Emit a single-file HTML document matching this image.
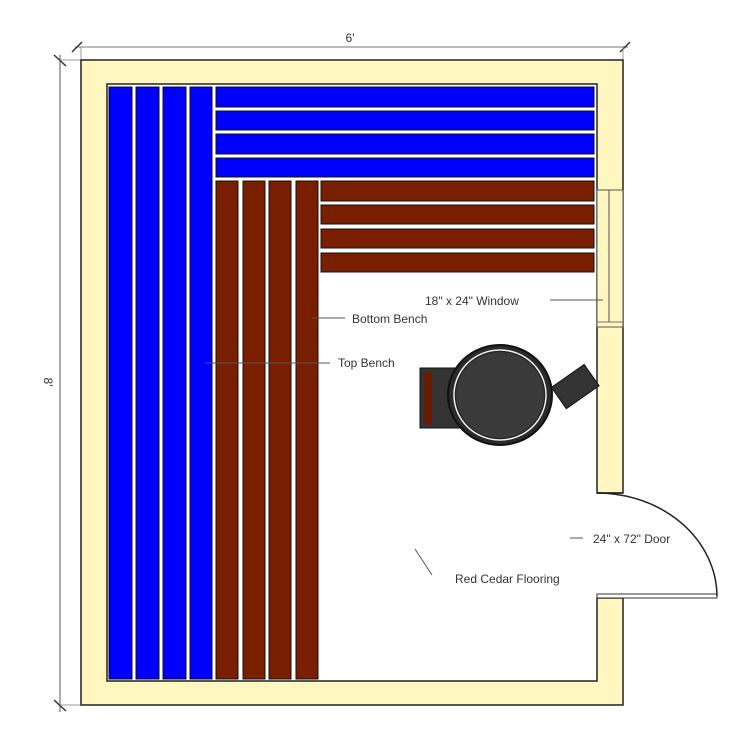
<!DOCTYPE html>
<html><head><style>body{margin:0;background:#fff}svg{display:block}</style></head><body>
<svg width="750" height="750" viewBox="0 0 750 750" xmlns="http://www.w3.org/2000/svg" font-family="Liberation Sans, sans-serif">
<rect width="750" height="750" fill="#fff"/>
<!-- dimension lines -->
<line x1="75" y1="47" x2="628" y2="47" stroke="#777" stroke-width="1"/>
<line x1="72" y1="52" x2="82" y2="42" stroke="#333" stroke-width="1.5"/>
<line x1="620" y1="52" x2="630" y2="42" stroke="#333" stroke-width="1.5"/>
<line x1="81" y1="47" x2="81" y2="60" stroke="#999"/>
<line x1="623" y1="47" x2="623" y2="60" stroke="#999"/>
<text x="350" y="42" font-size="12" fill="#333" text-anchor="middle">6'</text>
<line x1="60" y1="55" x2="60" y2="712" stroke="#555" stroke-width="1"/>
<line x1="54" y1="55" x2="66" y2="66" stroke="#333" stroke-width="1.5"/>
<line x1="54" y1="700" x2="66" y2="711" stroke="#333" stroke-width="1.5"/>
<line x1="60" y1="60" x2="81" y2="60" stroke="#999"/>
<line x1="60" y1="705" x2="81" y2="705" stroke="#999"/>
<text x="0" y="0" font-size="12" fill="#333" text-anchor="middle" transform="translate(44,382) rotate(90)">8'</text>
<!-- walls -->
<path d="M81,60 H623 V493 H597 V84 H107 V681 H597 V598 H623 V705 H81 Z" fill="#fff6c0" stroke="#222" stroke-width="1.5"/>
<!-- window -->
<rect x="597" y="190" width="26" height="137" fill="#fff6c0" stroke="#555" stroke-width="1"/>
<line x1="609" y1="190" x2="609" y2="322" stroke="#555"/>
<line x1="597" y1="322" x2="623" y2="322" stroke="#777"/>
<!-- door -->
<line x1="597" y1="493" x2="623" y2="493" stroke="#222" stroke-width="1.5"/>
<rect x="597" y="594" width="120" height="4" fill="#fff" stroke="#333" stroke-width="1"/>
<path d="M597,493 A120,104 0 0 1 717,596" fill="none" stroke="#222" stroke-width="1.5"/>
<!-- blue slats -->
<g fill="#0000ff" stroke="#111" stroke-width="1">
<rect x="109" y="87" width="23" height="592"/>
<rect x="136" y="87" width="23" height="592"/>
<rect x="163" y="87" width="23" height="592"/>
<rect x="190" y="87" width="22" height="592"/>
<rect x="216" y="87" width="378" height="20"/>
<rect x="216" y="111" width="378" height="19"/>
<rect x="216" y="134" width="378" height="20"/>
<rect x="216" y="158" width="378" height="19"/>
</g>
<g fill="#7a1e00" stroke="#111" stroke-width="1">
<rect x="216" y="181" width="22" height="498"/>
<rect x="243" y="181" width="22" height="498"/>
<rect x="269" y="181" width="22" height="498"/>
<rect x="296" y="181" width="22" height="498"/>
<rect x="321" y="181" width="273" height="20"/>
<rect x="321" y="205" width="273" height="19"/>
<rect x="321" y="229" width="273" height="19"/>
<rect x="321" y="253" width="273" height="19"/>
</g>
<!-- heater -->
<g transform="rotate(-35 575 388)"><rect x="556" y="374" width="40" height="26" fill="#333" stroke="#111"/></g>
<rect x="420" y="368" width="80" height="60" fill="#333" stroke="#111"/>
<rect x="424" y="372" width="8" height="52" fill="#6a1a00"/>
<ellipse cx="500" cy="395" rx="52" ry="50" fill="#2a2a2a" stroke="#111" stroke-width="2"/>
<ellipse cx="500" cy="395" rx="46" ry="45" fill="#222" stroke="#eee" stroke-width="1.5"/>
<ellipse cx="500" cy="395" rx="44" ry="43" fill="#3a3a3a"/>
<!-- labels -->
<g fill="#333" font-size="12">
<line x1="205" y1="363" x2="330" y2="363" stroke="#555"/>
<text x="338" y="367">Top Bench</text>
<line x1="312" y1="318" x2="345" y2="318" stroke="#555"/>
<text x="352" y="323">Bottom Bench</text>
<text x="425" y="305">18" x 24" Window</text>
<line x1="550" y1="300" x2="603" y2="300" stroke="#555"/>
<line x1="570" y1="538" x2="583" y2="538" stroke="#555"/>
<text x="593" y="543">24" x 72" Door</text>
<line x1="415" y1="549" x2="432" y2="575" stroke="#555"/>
<text x="455" y="583">Red Cedar Flooring</text>
</g>
</svg>
</body></html>
